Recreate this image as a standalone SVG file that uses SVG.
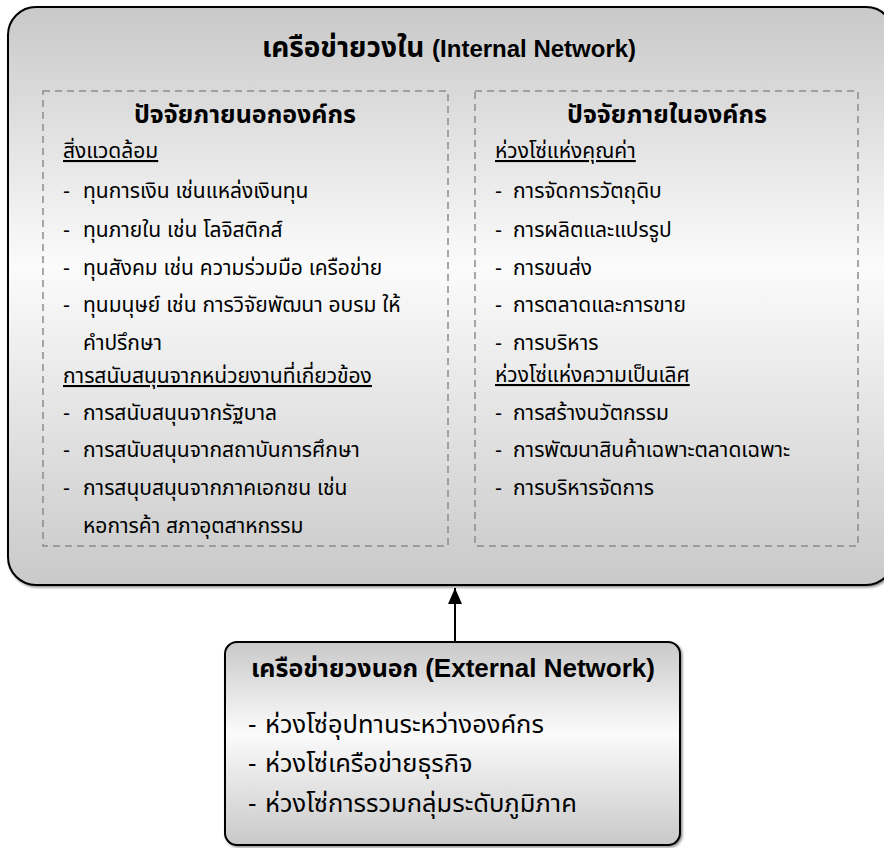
<svg xmlns="http://www.w3.org/2000/svg" width="884" height="848" viewBox="0 0 884 848">
<defs>
<linearGradient id="g" x1="0" y1="0" x2="0" y2="1">
<stop offset="0" stop-color="#c9c9c9"/>
<stop offset="0.45" stop-color="#fbfbfb"/>
<stop offset="1" stop-color="#c9c9c9"/>
</linearGradient>
<marker id="ah" markerWidth="16" markerHeight="14" refX="16" refY="7" orient="auto" markerUnits="userSpaceOnUse" viewBox="0 0 16 14">
<path d="M0,0 L16,7 L0,14 z" fill="#000"/>
</marker>
<filter id="sh" x="-5%" y="-5%" width="110%" height="110%">
<feDropShadow dx="1.5" dy="1.5" stdDeviation="0.8" flood-color="#000" flood-opacity="0.45"/>
</filter>
</defs>
<style>
text{font-family:'Liberation Sans','Noto Sans Thai','Loma','Garuda','Norasi','DejaVu Sans',sans-serif;fill:#000}
.lat{font-family:'Liberation Sans',Arial,sans-serif;font-weight:bold}
.t{font-size:28px;font-weight:bold}
.h{font-size:25px;font-weight:bold}
.s{font-size:21px;text-decoration:underline;text-decoration-thickness:2px}
.i{font-size:21px}
.e{font-size:25.5px}
.box{fill:url(#g);stroke:#000;stroke-width:2}
.dash{fill:none;stroke:#8c8c8c;stroke-width:1.5;stroke-dasharray:7 5}
</style>
<g id="internal">
<rect class="box" x="8" y="7" width="886" height="578" rx="28" filter="url(#sh)"/>
<text class="t" x="449" y="57" text-anchor="middle">เครือข่ายวงใน <tspan class="lat" font-size="24">(Internal Network)</tspan></text>
</g>
<g id="external-factors">
<rect class="dash" x="43" y="91" width="405" height="455"/>
<text class="h" x="245" y="123" text-anchor="middle">ปัจจัยภายนอกองค์กร</text>
<text class="s" x="63" y="158">สิ่งแวดล้อม</text>
<text class="i" x="63" y="198">-</text><text class="i" x="83" y="198">ทุนการเงิน เช่นแหล่งเงินทุน</text>
<text class="i" x="63" y="237">-</text><text class="i" x="83" y="237">ทุนภายใน เช่น โลจิสติกส์</text>
<text class="i" x="63" y="275">-</text><text class="i" x="83" y="275">ทุนสังคม เช่น ความร่วมมือ เครือข่าย</text>
<text class="i" x="63" y="312">-</text><text class="i" x="83" y="312">ทุนมนุษย์ เช่น การวิจัยพัฒนา อบรม ให้</text>
<text class="i" x="83" y="350">คำปรึกษา</text>
<text class="s" x="63" y="383">การสนับสนุนจากหน่วยงานที่เกี่ยวข้อง</text>
<text class="i" x="63" y="420">-</text><text class="i" x="83" y="420">การสนับสนุนจากรัฐบาล</text>
<text class="i" x="63" y="457">-</text><text class="i" x="83" y="457">การสนับสนุนจากสถาบันการศึกษา</text>
<text class="i" x="63" y="495">-</text><text class="i" x="83" y="495">การสนุบสนุนจากภาคเอกชน เช่น</text>
<text class="i" x="83" y="533">หอการค้า สภาอุตสาหกรรม</text>
</g>
<g id="internal-factors">
<rect class="dash" x="475" y="91" width="383" height="455"/>
<text class="h" x="667" y="123" text-anchor="middle">ปัจจัยภายในองค์กร</text>
<text class="s" x="495" y="158">ห่วงโซ่แห่งคุณค่า</text>
<text class="i" x="495" y="198">-</text><text class="i" x="513" y="198">การจัดการวัตถุดิบ</text>
<text class="i" x="495" y="237">-</text><text class="i" x="513" y="237">การผลิตและแปรรูป</text>
<text class="i" x="495" y="275">-</text><text class="i" x="513" y="275">การขนส่ง</text>
<text class="i" x="495" y="312">-</text><text class="i" x="513" y="312">การตลาดและการขาย</text>
<text class="i" x="495" y="350">-</text><text class="i" x="513" y="350">การบริหาร</text>
<text class="s" x="495" y="382">ห่วงโซ่แห่งความเป็นเลิศ</text>
<text class="i" x="495" y="420">-</text><text class="i" x="513" y="420">การสร้างนวัตกรรม</text>
<text class="i" x="495" y="457">-</text><text class="i" x="513" y="457">การพัฒนาสินค้าเฉพาะตลาดเฉพาะ</text>
<text class="i" x="495" y="495">-</text><text class="i" x="513" y="495">การบริหารจัดการ</text>
</g>
<g id="connectors">
<line x1="455" y1="641" x2="455" y2="588" stroke="#000" stroke-width="2" marker-end="url(#ah)"/>
</g>
<g id="external">
<rect class="box" x="225" y="642" width="455" height="203" rx="12" filter="url(#sh)"/>
<text class="h" x="453" y="677" text-anchor="middle" font-size="27">เครือข่ายวงนอก <tspan class="lat" font-size="26">(External Network)</tspan></text>
<text class="e" x="248" y="733">-</text><text class="e" x="265" y="733">ห่วงโซ่อุปทานระหว่างองค์กร</text>
<text class="e" x="248" y="772">-</text><text class="e" x="265" y="772">ห่วงโซ่เครือข่ายธุรกิจ</text>
<text class="e" x="248" y="812">-</text><text class="e" x="265" y="812">ห่วงโซ่การรวมกลุ่มระดับภูมิภาค</text>
</g>
</svg>
